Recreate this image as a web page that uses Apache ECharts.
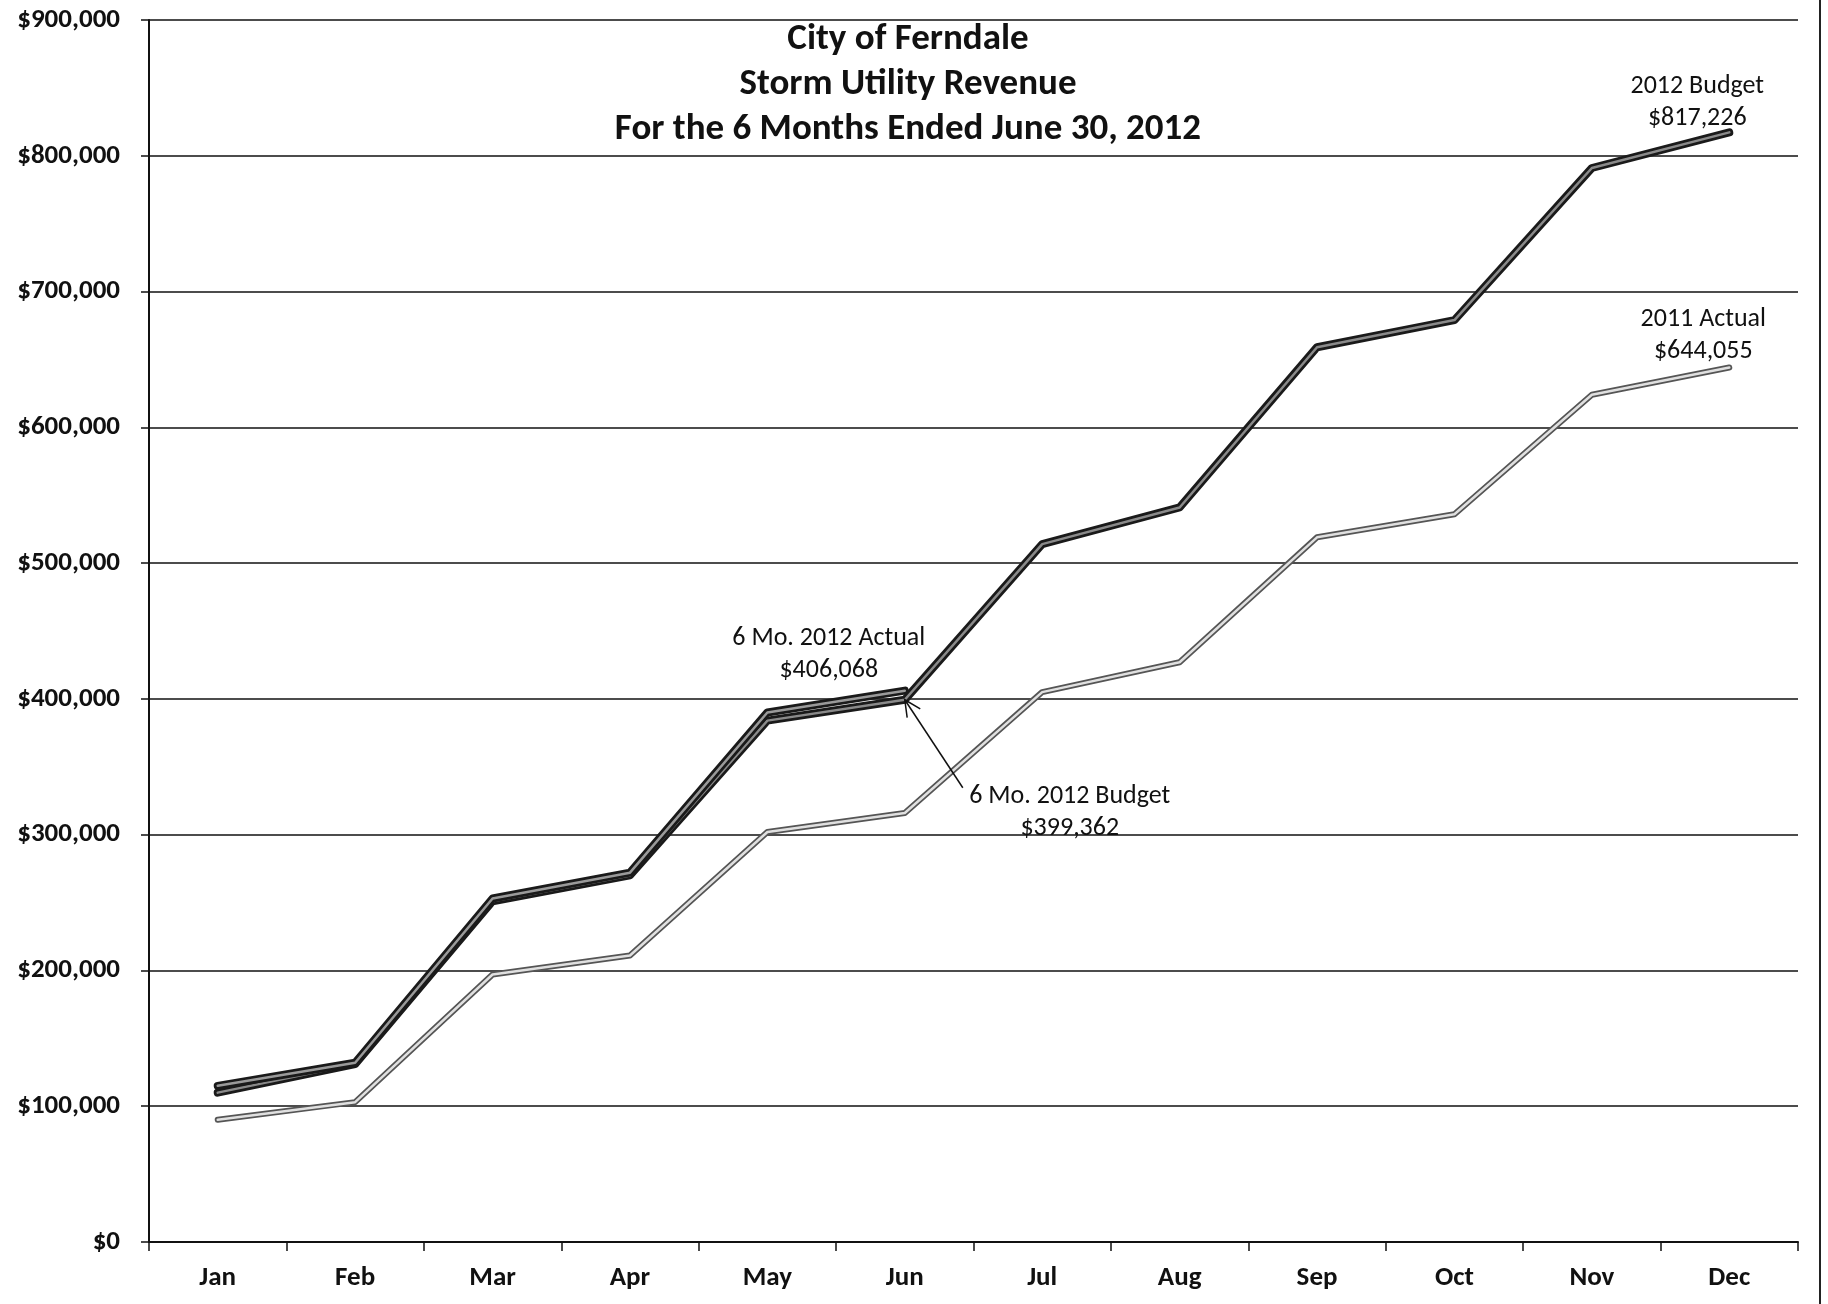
<!DOCTYPE html>
<html>
<head>
<meta charset="utf-8">
<title>Storm Utility Revenue</title>
<script src="https://cdn.jsdelivr.net/npm/echarts@6/dist/echarts.min.js"></script>
<style>
  html, body { margin: 0; padding: 0; background: #fff; }
  #chart { width: 1828px; height: 1304px; }
</style>
</head>
<body>
<div id="chart"></div>
<script>
// months on the x axis
const months = ['Jan', 'Feb', 'Mar', 'Apr', 'May', 'Jun', 'Jul', 'Aug', 'Sep', 'Oct', 'Nov', 'Dec']
// cumulative revenue
const budget2012 = [110000, 131000, 251000, 270000, 384000, 399362, 514000, 541000, 659000, 679000, 791000, 817226]
const actual2012 = [115000, 132000, 253000, 272000, 390000, 406068]
const actual2011 = [90000, 103000, 197000, 211000, 302000, 316000, 405000, 427000, 519000, 536000, 624000, 644055]
// y axis ticks
const yMin = 0
const yMax = 900000
const yStep = 100000

const FONT = 'Carlito, Lato, "Liberation Sans", sans-serif'
const money = v => '$' + Math.round(v).toLocaleString('en-US')

const chart = echarts.init(document.getElementById('chart'))

// helper: a line series (drawn twice: dark outline + lighter core)
function lineSeries(name, data, width, color, z) {
  return {
    name,
    type: 'line',
    data,
    symbol: 'none',
    silent: true,
    z,
    lineStyle: { width, color, cap: 'round', join: 'round' },
  }
}

const option = {
  animation: false,
  backgroundColor: '#fff',
  grid: { left: 149, right: 30, top: 20, bottom: 62 },
  xAxis: {
    type: 'category',
    data: months,
    boundaryGap: true,
    axisLine: { lineStyle: { color: '#111', width: 2 } },
    axisTick: { show: true, length: 9, interval: 0, lineStyle: { color: '#111', width: 1.5 } },
    axisLabel: { fontFamily: FONT, fontSize: 27, fontWeight: 'bold', color: '#111', margin: 23, interval: 0 },
    splitLine: { show: false },
  },
  yAxis: {
    type: 'value',
    min: yMin,
    max: yMax,
    interval: yStep,
    axisLine: { show: true, lineStyle: { color: '#111', width: 2 } },
    axisTick: { show: true, length: 8, lineStyle: { color: '#111', width: 1.5 } },
    axisLabel: { fontFamily: FONT, fontSize: 27, fontWeight: 'bold', color: '#111', margin: 29, formatter: money },
    splitLine: { lineStyle: { color: '#111', width: 1.5 } },
  },
  series: [
    lineSeries('2011 Actual', actual2011, 6, '#555', 2),
    lineSeries('2011 Actual core', actual2011, 2.5, '#e0e0e0', 3),
    lineSeries('2012 Budget', budget2012, 8, '#1a1a1a', 4),
    lineSeries('2012 Budget core', budget2012, 2.5, '#8a8a8a', 5),
    lineSeries('6 Mo. 2012 Actual', actual2012, 8, '#1a1a1a', 6),
    lineSeries('6 Mo. 2012 Actual core', actual2012, 2.5, '#9a9a9a', 7),
  ],
}

chart.setOption(option)

// title + annotations placed relative to the data points
function annotate() {
  const px = (si, i, arr) => chart.convertToPixel({ seriesIndex: si }, [i, arr[i]])
  const last = months.length - 1
  const pBud = px(2, last, budget2012)
  const p11 = px(0, last, actual2011)
  const pAct = px(4, 5, actual2012)
  const pJun = px(2, 5, budget2012)

  const txt = (x, y, text, vAlign) => ({
    type: 'text',
    x, y,
    z: 20,
    style: {
      text,
      font: '26px ' + FONT,
      fill: '#111',
      align: 'center',
      verticalAlign: vAlign,
      lineHeight: 32,
    },
  })

  const tail = [pJun[0] + 58, pJun[1] + 88]
  const ang = Math.atan2(tail[1] - pJun[1], tail[0] - pJun[0])
  const head = (d) => [pJun[0] + 18 * Math.cos(ang + d), pJun[1] + 18 * Math.sin(ang + d)]

  chart.setOption({
    graphic: [
      {
        type: 'text',
        x: 908, y: 17, z: 20,
        style: {
          text: 'City of Ferndale\nStorm Utility Revenue\nFor the 6 Months Ended June 30, 2012',
          font: 'bold 37px ' + FONT,
          fill: '#111',
          align: 'center',
          verticalAlign: 'top',
          lineHeight: 45,
        },
      },
      txt(pBud[0] - 32, pBud[1] + 2, '2012 Budget\n' + money(budget2012[last]), 'bottom'),
      txt(p11[0] - 26, p11[1], '2011 Actual\n' + money(actual2011[last]), 'bottom'),
      txt(pAct[0] - 76, pAct[1] - 4, '6 Mo. 2012 Actual\n' + money(actual2012[5]), 'bottom'),
      txt(pJun[0] + 165, pJun[1] + 81, '6 Mo. 2012 Budget\n' + money(budget2012[5]), 'top'),
      {
        type: 'line', z: 20,
        shape: { x1: pJun[0], y1: pJun[1], x2: tail[0], y2: tail[1] },
        style: { stroke: '#111', lineWidth: 1.5 },
      },
      {
        type: 'polyline', z: 20,
        shape: { points: [head(-0.45), pJun, head(0.45)] },
        style: { stroke: '#111', lineWidth: 1.5, fill: null },
      },
      // right page edge of the scanned sheet
      {
        type: 'line', z: 20,
        shape: { x1: 1820, y1: 0, x2: 1820, y2: 1304 },
        style: { stroke: '#222', lineWidth: 2 },
      },
    ],
  })
}

annotate()
</script>
</body>
</html>
